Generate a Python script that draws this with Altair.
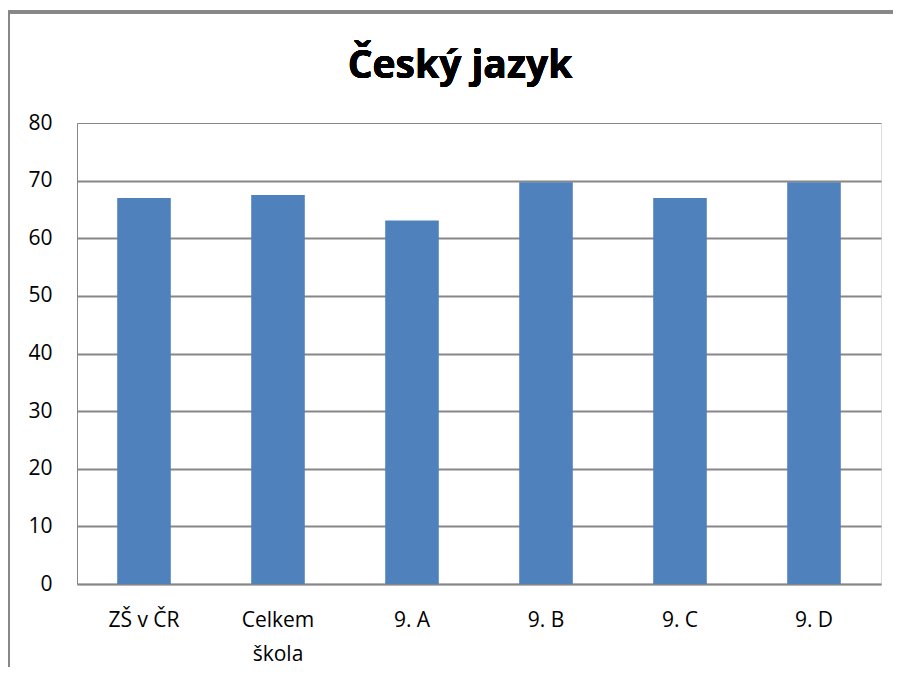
import altair as alt
import pandas as pd

categories = ["ZŠ v ČR", "Celkem\nškola", "9. A", "9. B", "9. C", "9. D"]
values = [67.0, 67.5, 63.1, 69.7, 67.0, 69.7]
y_ticks = [0, 10, 20, 30, 40, 50, 60, 70, 80]

df = pd.DataFrame({"kategorie": categories, "hodnota": values})

GRAY = "#878787"
FONT = "Open Sans"

bars = alt.Chart(df).mark_bar(color="#4F81BD").encode(
    x=alt.X(
        "kategorie:N",
        sort=categories,
        scale=alt.Scale(paddingInner=0.6, paddingOuter=0.3),
        axis=alt.Axis(
            title=None,
            labelAngle=0,
            labelExpr="split(datum.label, '\\n')",
            labelLineHeight=34,
            labelFont=FONT,
            labelFontSize=21,
            labelColor="#000000",
            labelPadding=25,
            labelBaseline="top",
            ticks=False,
            domainColor=GRAY,
            domainWidth=1.5,
        ),
    ),
    y=alt.Y(
        "hodnota:Q",
        scale=alt.Scale(domain=[0, 80], nice=False),
        axis=alt.Axis(
            title=None,
            values=y_ticks,
            labelFont=FONT,
            labelFontSize=21,
            labelColor="#000000",
            labelPadding=25,
            ticks=False,
            domainColor=GRAY,
            domainWidth=1,
            gridColor=GRAY,
            gridWidth={"condition": {"test": "datum.value === 80", "value": 1}, "value": 2},
        ),
    ),
)

frame_top = alt.Chart(df).mark_rule(color=GRAY, strokeWidth=3).encode(
    x=alt.value(-70), x2=alt.value(830), y=alt.value(-111)
)
frame_left = alt.Chart(df).mark_rule(color=GRAY, strokeWidth=3).encode(
    x=alt.value(-68.5), y=alt.value(-112), y2=alt.value(560)
)
title = alt.Chart(df).mark_text(
    text="Český jazyk", font=FONT, fontSize=39, fontWeight="bold",
    color="#000000", align="center", baseline="alphabetic"
).encode(x=alt.value(383), y=alt.value(-45))

chart = alt.layer(bars, frame_top, frame_left, title).properties(
    width=804,
    height=461,
    autosize=alt.AutoSizeParams(type="none"),
    padding={"left": 69, "top": 115, "right": 12, "bottom": 83},
).configure_view(stroke=GRAY, strokeWidth=1).configure(background="white")

chart.save("out.html", embed_options={"renderer": "svg", "actions": False})
